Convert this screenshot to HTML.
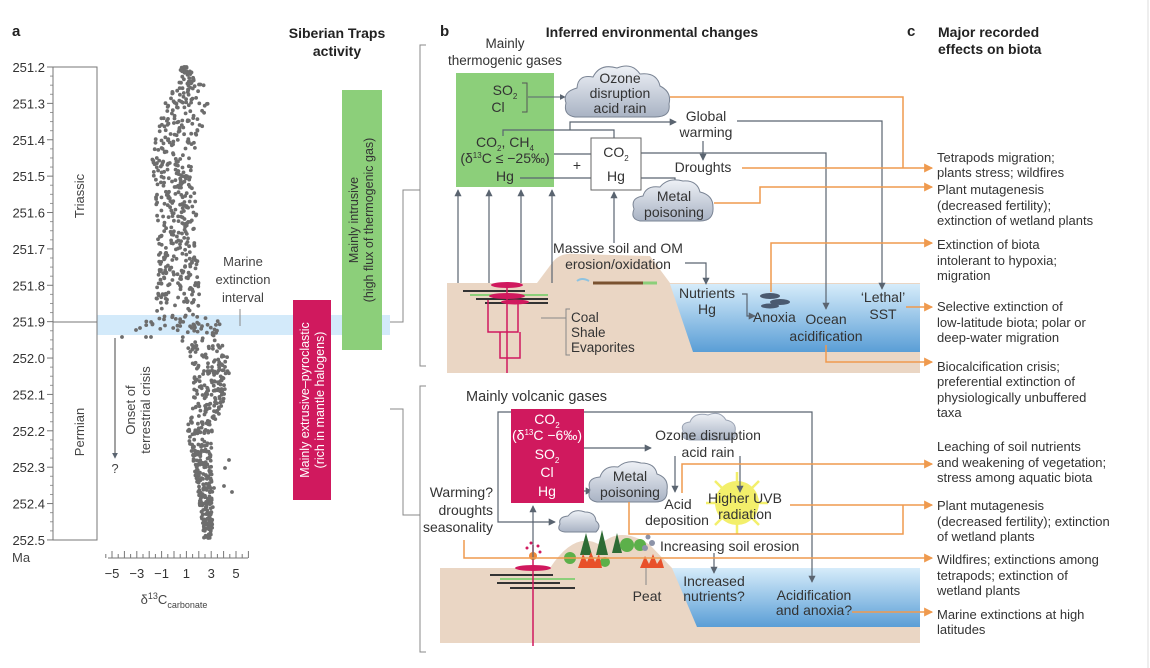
<!DOCTYPE html>
<html><head><meta charset="utf-8"><style>
html,body{margin:0;padding:0;background:#fff}
svg{display:block}
text{font-family:"Liberation Sans",sans-serif;fill:#333}
.b{font-weight:bold;fill:#222}
.t{font-size:13.5px}
.c{font-size:13px;fill:#444}
</style></head><body>
<svg id="s" width="1150" height="668" viewBox="0 0 1150 668" xmlns="http://www.w3.org/2000/svg">
<defs>
<marker id="ag" viewBox="0 0 8 8" refX="7" refY="4" markerWidth="6" markerHeight="6" orient="auto"><path d="M0,0L8,4L0,8z" fill="#5a6470"/></marker>
<marker id="ao" viewBox="0 0 8 8" refX="7" refY="4" markerWidth="6" markerHeight="6" orient="auto"><path d="M0,0L8,4L0,8z" fill="#ef9a4e"/></marker>
<linearGradient id="wg" x1="0" y1="0" x2="0" y2="1"><stop offset="0" stop-color="#d6ecfa"/><stop offset="1" stop-color="#5a9ed6"/></linearGradient>
<linearGradient id="cg" x1="0" y1="0" x2="0" y2="1"><stop offset="0" stop-color="#eef1f6"/><stop offset="1" stop-color="#a9b3c4"/></linearGradient>
</defs>

<!-- Panel a -->
<text x="12" y="36" class="b" font-size="15">a</text>
<text x="337" y="38" class="b" font-size="14" text-anchor="middle">Siberian Traps</text>
<text x="337" y="56" class="b" font-size="14" text-anchor="middle">activity</text>
<rect x="97" y="315" width="293" height="20" fill="#d3eafa"/>
<g id="yax"></g>
<rect x="53" y="67" width="44" height="473" fill="none" stroke="#777" stroke-width="1"/>
<line x1="53" y1="322" x2="97" y2="322" stroke="#777"/>
<text transform="translate(84,196) rotate(-90)" text-anchor="middle" class="c" font-size="14">Triassic</text>
<text transform="translate(84,432) rotate(-90)" text-anchor="middle" class="c" font-size="14">Permian</text>
<text x="12" y="562" class="c" font-size="13">Ma</text>
<text x="243" y="266" text-anchor="middle" class="c" font-size="14">Marine</text>
<text x="243" y="284" text-anchor="middle" class="c" font-size="14">extinction</text>
<text x="243" y="302" text-anchor="middle" class="c" font-size="14">interval</text>
<line x1="240" y1="309" x2="240" y2="326" stroke="#888"/>
<line x1="115" y1="338" x2="115" y2="458" stroke="#444" marker-end="url(#ag)"/>
<text x="115" y="473" text-anchor="middle" class="c" font-size="13">?</text>
<text transform="translate(135,410) rotate(-90)" text-anchor="middle" class="c" font-size="14">Onset of</text>
<text transform="translate(150,410) rotate(-90)" text-anchor="middle" class="c" font-size="14">terrestrial crisis</text>
<g id="scat" fill="#6d6d6d"></g>
<g id="xax"></g>
<text x="174" y="604" text-anchor="middle" class="c" font-size="14">δ<tspan font-size="9" dy="-5">13</tspan><tspan dy="5">C</tspan><tspan font-size="9" dy="4">carbonate</tspan></text>

<rect x="293" y="300" width="38" height="200" fill="#d0195e"/>
<text transform="translate(309,400) rotate(-90)" text-anchor="middle" font-size="12.5" style="fill:#fff">Mainly extrusive–pyroclastic</text>
<text transform="translate(324,400) rotate(-90)" text-anchor="middle" font-size="12.5" style="fill:#fff">(rich in mantle halogens)</text>
<rect x="342" y="90" width="40" height="260" fill="#8ccf7a"/>
<text transform="translate(358,220) rotate(-90)" text-anchor="middle" font-size="12.5" fill="#333">Mainly intrusive</text>
<text transform="translate(373,220) rotate(-90)" text-anchor="middle" font-size="12.5" fill="#333">(high flux of thermogenic gas)</text>

<g stroke="#888" fill="none" stroke-width="1">
<path d="M390,322H403V190H420"/>
<path d="M390,409H403V515H420"/>
<path d="M426,45H420V366H426"/>
<path d="M426,386H420V652H426"/>
<line x1="1148" y1="0" x2="1148" y2="668" stroke="#ddd"/>
</g>

<!-- Panel b top -->
<text x="440" y="36" class="b" font-size="15">b</text>
<text x="652" y="37" class="b" font-size="14" text-anchor="middle">Inferred environmental  changes</text>
<text x="505" y="48" text-anchor="middle" class="t">Mainly</text>
<text x="505" y="65" text-anchor="middle" class="t">thermogenic gases</text>

<path d="M447,283H537L552,263Q560,252 575,254L650,256L670,283H920V373H447Z" fill="#ead6c4"/>
<path d="M670,284H920V352H693Z" fill="url(#wg)"/>
<path d="M577,281q5,-4 12,0" stroke="#8fc3e0" fill="none" stroke-width="2"/>
<path d="M593,283h50" stroke="#7a5230" stroke-width="3"/>
<path d="M643,283h14" stroke="#8ccf7a" stroke-width="3"/>
<g stroke-width="2">
<line x1="463" y1="291" x2="525" y2="291" stroke="#333"/>
<line x1="470" y1="295" x2="548" y2="295" stroke="#8ccf7a"/>
<line x1="476" y1="299" x2="548" y2="299" stroke="#333"/>
<line x1="485" y1="303" x2="548" y2="303" stroke="#333"/>
</g>
<ellipse cx="507" cy="285" rx="16" ry="3" fill="#d0195e"/>
<ellipse cx="507" cy="296" rx="18" ry="3" fill="#d0195e"/>
<ellipse cx="515" cy="302" rx="14" ry="2.5" fill="#d0195e"/>
<g stroke="#d0195e" fill="none" stroke-width="1.5">
<line x1="507" y1="283" x2="507" y2="373"/>
<path d="M488,300V332H518V300"/>
<path d="M500,332V358H520V332"/>
</g>
<path d="M541,318H566M570,309H566V355H570" stroke="#888" fill="none"/>
<text x="571" y="322" class="t">Coal</text>
<text x="571" y="337" class="t">Shale</text>
<text x="571" y="352" class="t">Evaporites</text>

<rect x="456" y="73" width="98" height="114" fill="#8ccf7a"/>
<text x="505" y="95" text-anchor="middle" font-size="14">SO<tspan font-size="8" dy="4">2</tspan></text>
<text x="498" y="112" text-anchor="middle" font-size="14">Cl</text>
<path d="M522,83h5v29h-5" stroke="#555" fill="none"/>
<line x1="528" y1="97" x2="565" y2="97" stroke="#5a6470" marker-end="url(#ag)"/>
<text x="505" y="147" text-anchor="middle" font-size="14">CO<tspan font-size="8" dy="4">2</tspan><tspan dy="-4">, CH</tspan><tspan font-size="8" dy="4">4</tspan></text>
<text x="505" y="163" text-anchor="middle" font-size="14">(δ<tspan font-size="8" dy="-5">13</tspan><tspan dy="5">C ≤ −25‰)</tspan></text>
<text x="505" y="181" text-anchor="middle" font-size="14">Hg</text>

<g stroke="#5a6470" fill="none" stroke-width="1.2">
<path d="M503,136V130H614V138"/>
<path d="M570,130V122H676" marker-end="url(#ag)"/>
<path d="M554,154H591"/>
<path d="M520,178H591"/>
<path d="M641,153H826V309" marker-end="url(#ag)"/>
<path d="M641,178H675V189" marker-end="url(#ag)"/>
<path d="M703,141V160" marker-end="url(#ag)"/>
<path d="M737,121H882V289" marker-end="url(#ag)"/>
<path d="M458,283V190" marker-end="url(#ag)"/>
<path d="M489,283V190" marker-end="url(#ag)"/>
<path d="M521,283V190" marker-end="url(#ag)"/>
<path d="M552,283V190" marker-end="url(#ag)"/>
<path d="M614,243V192" marker-end="url(#ag)"/>
<path d="M685,263H706V284" marker-end="url(#ag)"/>
<path d="M742,294H747V316H755" marker-end="url(#ag)"/>
</g>
<rect x="591" y="138" width="50" height="52" fill="#fff" stroke="#666"/>
<text x="616" y="157" text-anchor="middle" font-size="14">CO<tspan font-size="8" dy="4">2</tspan></text>
<text x="616" y="181" text-anchor="middle" font-size="14">Hg</text>
<text x="577" y="170" text-anchor="middle" font-size="14">+</text>

<path d="M575,117Q563,115 566,103Q562,92 577,88Q578,74 593,77Q600,63 617,68Q632,62 640,74Q657,72 660,86Q672,92 669,104Q671,117 655,117Z" fill="url(#cg)" stroke="#7a8494"/>
<text x="620" y="83" text-anchor="middle" font-size="14">Ozone</text>
<text x="620" y="98" text-anchor="middle" font-size="14">disruption</text>
<text x="620" y="113" text-anchor="middle" font-size="14">acid rain</text>
<text x="706" y="121" text-anchor="middle" font-size="14">Global</text>
<text x="706" y="137" text-anchor="middle" font-size="14">warming</text>
<text x="703" y="172" text-anchor="middle" font-size="14">Droughts</text>
<path d="M640,221Q630,219 634,209Q630,198 643,196Q646,185 660,187Q668,177 683,181Q697,180 700,192Q713,195 713,207Q714,221 700,221Z" fill="url(#cg)" stroke="#7a8494"/>
<text x="674" y="201" text-anchor="middle" font-size="14">Metal</text>
<text x="674" y="217" text-anchor="middle" font-size="14">poisoning</text>
<text x="618" y="253" text-anchor="middle" font-size="14">Massive soil and OM</text>
<text x="618" y="269" text-anchor="middle" font-size="14">erosion/oxidation</text>
<text x="707" y="298" text-anchor="middle" font-size="14">Nutrients</text>
<text x="707" y="314" text-anchor="middle" font-size="14">Hg</text>
<text x="753" y="322" font-size="14">Anoxia</text>
<g fill="#4a5a70"><ellipse cx="770" cy="296" rx="10" ry="3"/><ellipse cx="780" cy="302" rx="10" ry="3"/><ellipse cx="770" cy="306" rx="9" ry="2.5"/></g>
<text x="826" y="324" text-anchor="middle" font-size="14">Ocean</text>
<text x="826" y="341" text-anchor="middle" font-size="14">acidification</text>
<text x="883" y="302" text-anchor="middle" font-size="14">‘Lethal’</text>
<text x="883" y="319" text-anchor="middle" font-size="14">SST</text>

<g stroke="#ef9a4e" fill="none" stroke-width="1.5">
<path d="M670,97H903V168"/>
<path d="M742,168H932" marker-end="url(#ao)"/>
<path d="M714,203H760V187H932" marker-end="url(#ao)"/>
<path d="M771,292V243H932" marker-end="url(#ao)"/>
<path d="M906,307H932" marker-end="url(#ao)"/>
<path d="M826,345V362H932" marker-end="url(#ao)"/>
</g>

<!-- Panel b bottom -->
<text x="466" y="401" font-size="14.5">Mainly volcanic gases</text>
<path d="M440,568H550Q575,530 600,545Q620,525 650,545L672,568H920V643H440Z" fill="#ead6c4"/>
<path d="M672,568H920V627H697Z" fill="url(#wg)"/>
<g stroke-width="2">
<line x1="490" y1="575" x2="553" y2="575" stroke="#333"/>
<line x1="500" y1="579" x2="575" y2="579" stroke="#8ccf7a"/>
<line x1="497" y1="583" x2="560" y2="583" stroke="#333"/>
<line x1="510" y1="588" x2="575" y2="588" stroke="#333"/>
</g>
<ellipse cx="533" cy="568" rx="18" ry="3" fill="#d0195e"/>
<line x1="533" y1="545" x2="533" y2="646" stroke="#d0195e" stroke-width="1.5"/>
<circle cx="533" cy="556" r="4" fill="#f08a3a"/>
<g fill="#d0195e"><circle cx="527" cy="548" r="1.5"/><circle cx="538" cy="546" r="1.5"/><circle cx="531" cy="543" r="1.5"/><circle cx="540" cy="552" r="1.5"/></g>
<g fill="#2e6b34"><path d="M580,555l6,-22l6,22z"/><path d="M596,555l6,-25l6,25z"/><path d="M612,553l5,-20l5,20z"/></g>
<g fill="#5cb04a"><circle cx="570" cy="558" r="6"/><circle cx="627" cy="545" r="7"/><circle cx="640" cy="545" r="6"/><circle cx="605" cy="562" r="5"/></g>
<g fill="#e8502a"><path d="M578,568l5,-14l4,8l4,-10l4,10l4,-8l3,14z"/><path d="M640,568l5,-12l4,8l4,-10l4,10l4,-6l3,10z"/></g>
<g fill="#8c93a8"><circle cx="645" cy="548" r="3"/><circle cx="652" cy="543" r="3"/><circle cx="648" cy="537" r="2.5"/></g>
<line x1="646" y1="568" x2="646" y2="585" stroke="#888"/>
<path d="M565,532Q556,531 560,524Q558,517 568,516Q574,508 585,512Q595,512 596,521Q602,526 596,532Z" fill="url(#cg)" stroke="#7a8494"/>

<path d="M690,440Q680,439 683,431Q680,423 690,422Q694,412 708,415Q720,410 726,420Q737,422 735,432Q737,440 728,440Z" fill="url(#cg)" stroke="#9aa3b3"/>
<g stroke="#f3ef6b" stroke-width="2.5">
<line x1="737" y1="472" x2="737" y2="534"/><line x1="706" y1="503" x2="768" y2="503"/>
<line x1="715" y1="481" x2="759" y2="525"/><line x1="759" y1="481" x2="715" y2="525"/>
</g>
<circle cx="737" cy="503" r="22" fill="#f3ef6b"/>

<rect x="511" y="409" width="73" height="94" fill="#d0195e"/>
<g font-size="14" text-anchor="middle">
<text x="547" y="424" style="fill:#fff">CO<tspan font-size="8" dy="4">2</tspan></text>
<text x="547" y="440" style="fill:#fff">(δ<tspan font-size="8" dy="-5">13</tspan><tspan dy="5">C −6‰)</tspan></text>
<text x="547" y="459" style="fill:#fff">SO<tspan font-size="8" dy="4">2</tspan></text>
<text x="547" y="477" style="fill:#fff">Cl</text>
<text x="547" y="496" style="fill:#fff">Hg</text>
</g>
<g stroke="#5a6470" fill="none" stroke-width="1.2">
<path d="M511,412H498V522H555" marker-end="url(#ag)"/>
<path d="M584,412H812V582" marker-end="url(#ag)"/>
<path d="M584,448H651" marker-end="url(#ag)"/>
<path d="M584,491H592" marker-end="url(#ag)"/>
<path d="M675,456V492" marker-end="url(#ag)"/>
<path d="M740,456V492" marker-end="url(#ag)"/>
<path d="M533,560V506" marker-end="url(#ag)"/>
<path d="M714,553V573" marker-end="url(#ag)"/>
</g>
<path d="M597,502Q586,500 590,490Q586,478 600,477Q604,465 618,467Q627,459 641,463Q655,463 657,474Q669,478 667,490Q668,502 655,502Z" fill="url(#cg)" stroke="#7a8494"/>
<text x="630" y="481" text-anchor="middle" font-size="14">Metal</text>
<text x="630" y="497" text-anchor="middle" font-size="14">poisoning</text>
<text x="708" y="440" text-anchor="middle" font-size="14">Ozone disruption</text>
<text x="708" y="457" text-anchor="middle" font-size="14">acid rain</text>
<text x="678" y="509" text-anchor="middle" font-size="14">Acid</text>
<text x="677" y="525" text-anchor="middle" font-size="14">deposition</text>
<text x="745" y="503" text-anchor="middle" font-size="14">Higher UVB</text>
<text x="745" y="519" text-anchor="middle" font-size="14">radiation</text>
<text x="493" y="497" text-anchor="end" font-size="14">Warming?</text>
<text x="493" y="515" text-anchor="end" font-size="14">droughts</text>
<text x="493" y="532" text-anchor="end" font-size="14">seasonality</text>
<text x="660" y="551" font-size="14">Increasing soil erosion</text>
<text x="647" y="601" text-anchor="middle" font-size="14">Peat</text>
<text x="714" y="586" text-anchor="middle" font-size="14">Increased</text>
<text x="714" y="601" text-anchor="middle" font-size="14">nutrients?</text>
<text x="814" y="600" text-anchor="middle" font-size="14">Acidification</text>
<text x="814" y="615" text-anchor="middle" font-size="14">and anoxia?</text>

<g stroke="#ef9a4e" fill="none" stroke-width="1.5">
<path d="M682,493V464H932" marker-end="url(#ao)"/>
<path d="M629,502V534H903V505"/>
<path d="M790,505H932" marker-end="url(#ao)"/>
<path d="M464,540V558H932" marker-end="url(#ao)"/>
<path d="M852,612H932" marker-end="url(#ao)"/>
</g>

<!-- Panel c -->
<text x="907" y="36" class="b" font-size="15">c</text>
<text x="938" y="37" class="b" font-size="14">Major recorded</text>
<text x="938" y="54" class="b" font-size="14">effects on biota</text>
<g font-size="13.5" class="c">
<text x="937" y="162">Tetrapods migration;</text>
<text x="937" y="177">plants stress; wildfires</text>
<text x="937" y="194">Plant mutagenesis</text>
<text x="937" y="210">(decreased fertility);</text>
<text x="937" y="225">extinction of wetland plants</text>
<text x="937" y="249">Extinction of biota</text>
<text x="937" y="265">intolerant to hypoxia;</text>
<text x="937" y="280">migration</text>
<text x="937" y="311">Selective extinction of</text>
<text x="937" y="327">low-latitude biota; polar or</text>
<text x="937" y="342">deep-water migration</text>
<text x="937" y="371">Biocalcification crisis;</text>
<text x="937" y="386">preferential extinction of</text>
<text x="937" y="402">physiologically unbuffered</text>
<text x="937" y="417">taxa</text>
<text x="937" y="451">Leaching of soil nutrients</text>
<text x="937" y="467">and weakening of vegetation;</text>
<text x="937" y="482">stress among aquatic biota</text>
<text x="937" y="510">Plant mutagenesis</text>
<text x="937" y="526">(decreased fertility); extinction</text>
<text x="937" y="541">of wetland plants</text>
<text x="937" y="564">Wildfires; extinctions among</text>
<text x="937" y="580">tetrapods; extinction of</text>
<text x="937" y="595">wetland plants</text>
<text x="937" y="619">Marine extinctions at high</text>
<text x="937" y="634">latitudes</text>
</g>
</svg>
<script>
(function(){
var NS="http://www.w3.org/2000/svg";
function el(p,t,a,txt){var e=document.createElementNS(NS,t);for(var k in a)e.setAttribute(k,a[k]);if(txt!=null)e.textContent=txt;document.getElementById(p).appendChild(e);}
var labs=["251.2","251.3","251.4","251.5","251.6","251.7","251.8","251.9","252.0","252.1","252.2","252.3","252.4","252.5"];
for(var i=0;i<14;i++){var y=67+i*36.38;
 el("yax","text",{x:45,y:y+5,"text-anchor":"end","font-size":"13",fill:"#444"},labs[i]);
 el("yax","line",{x1:47,y1:y,x2:53,y2:y,stroke:"#777"});
 if(i<13){for(var j=1;j<4;j++){var yy=y+j*9.1;el("yax","line",{x1:50,y1:yy,x2:53,y2:yy,stroke:"#999"});}}}
el("xax","line",{x1:108,y1:558,x2:248,y2:558,stroke:"#777"});
for(var d=-5.5;d<=6;d+=0.5){var x=174+12.4*d;el("xax","line",{x1:x,y1:558,x2:x,y2:(d%1===0?551:554),stroke:"#777"});}
[-5,-3,-1,1,3,5].forEach(function(d){el("xax","text",{x:174+12.4*d,y:578,"text-anchor":"middle","font-size":"13",fill:"#444"},d<0?"−"+(-d):""+d);});
var seed=7;function r(){seed=(seed*16807)%2147483647;return seed/2147483647;}
var C=[[67,184,3],[85,190,14],[105,186,22],[130,180,24],[160,172,20],[190,175,20],[230,178,20],[270,178,20],[305,178,22],[322,180,42],[332,192,28],[345,207,20],[370,212,18],[400,208,16],[430,200,13],[460,202,9],[500,206,7],[540,208,4]];
function interp(y){for(var k=0;k<C.length-1;k++){if(y>=C[k][0]&&y<=C[k+1][0]){var t=(y-C[k][0])/(C[k+1][0]-C[k][0]);return [C[k][1]+t*(C[k+1][1]-C[k][1]),C[k][2]+t*(C[k+1][2]-C[k][2])];}}return [208,4];}
for(var n=0;n<950;n++){var y=67+r()*473;if(y>300&&y<345&&r()<0.5)y=315+r()*18;var c=interp(y);var x=c[0]+(r()*2-1)*c[1];el("scat","circle",{cx:x.toFixed(1),cy:y.toFixed(1),r:1.9});}
[[214,488],[224,486],[232,492],[229,460],[225,468],[122,337],[146,337],[151,337],[136,330],[140,328]].forEach(function(p){el("scat","circle",{cx:p[0],cy:p[1],r:1.9});});
})();
</script>
</body></html>
